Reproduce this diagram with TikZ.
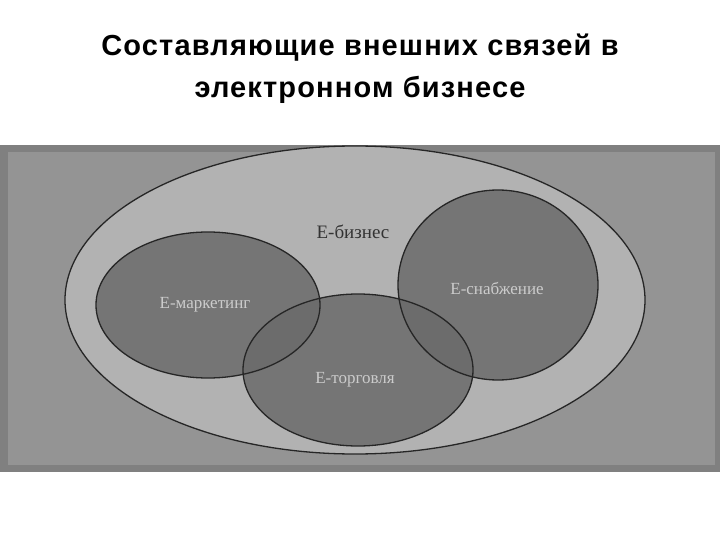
\documentclass[tikz,border=0pt]{standalone}
\usepackage{fontspec}
\setmainfont{Liberation Serif}
\newfontfamily\titlefont[LetterSpace=4]{Liberation Sans}
\begin{document}
\begin{tikzpicture}[x=1pt,y=-1pt,
  inner/.style={fill=black!58,fill opacity=0.85},
  rim/.style={draw=black!85,line width=1.3pt},
  lbl/.style={font=\fontsize{17}{19}\selectfont,text=black!20}]
\useasboundingbox (0,0) rectangle (720,540);
\fill[white] (0,0) rectangle (720,540);
\node[font=\titlefont\bfseries\fontsize{29}{42}\selectfont,align=center] (title) at (360,69)
  {Составляющие внешних связей в\\электронном бизнесе};
\fill[black!50] (0,145) rectangle (720,472);
\fill[black!42] (8,152) rectangle (715,465);
\draw[rim,fill=black!30] (355,300) ellipse [x radius=290,y radius=154];
\fill[inner] (208,305) ellipse [x radius=112,y radius=73];
\fill[inner] (358,370) ellipse [x radius=115,y radius=76];
\fill[inner] (498,285) ellipse [x radius=100,y radius=95];
\draw[rim] (208,305) ellipse [x radius=112,y radius=73];
\draw[rim] (358,370) ellipse [x radius=115,y radius=76];
\draw[rim] (498,285) ellipse [x radius=100,y radius=95];
\node[font=\fontsize{19}{21}\selectfont,text=black!80] (eb) at (353,232) {E-бизнес};
\node[lbl] (em) at (205,305) {E-маркетинг};
\node[lbl] (et) at (355,380) {E-торговля};
\node[lbl] (es) at (497,288) {E-снабжение};
\end{tikzpicture}
\end{document}
